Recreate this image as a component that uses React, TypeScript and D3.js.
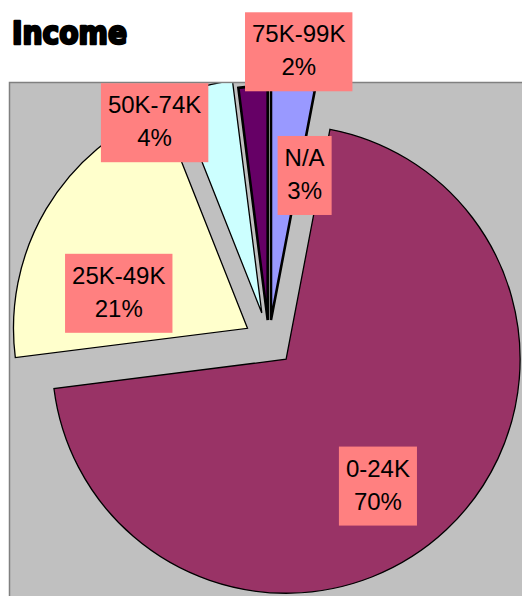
import React, { useEffect, useRef } from "react";
import * as d3 from "d3";

const categories = ["N/A", "0-24K", "25K-49K", "50K-74K", "75K-99K"];
const percents = [3, 70, 21, 4, 2];
const percentLabels = ["3%", "70%", "21%", "4%", "2%"];
const colors = ["#9999FF", "#993366", "#FFFFCC", "#CCFFFF", "#660066"];
// layout (styling) arrays
const explode = [21, 25, 25, 29, 21];
const strokeWidths = [2.6, 1.3, 1.3, 1.3, 2.6];
const labelAngleDeg = [13.1, 144.1, 285.2, 330.6, 6.6];
const labelDistFrac = [0.64, 0.675, 0.575, 0.941, 1.164];

const W = 522;
const H = 596;

export default function App() {
  const ref = useRef<SVGSVGElement>(null);
  useEffect(() => {
    const svg = d3.select(ref.current);
    svg.selectAll("*").remove();

    const plot = { x: 9.5, y: 82.5, w: 530, h: 530 };
    const cx = 269;
    const cy = 341;
    const r = 234;

    svg
      .append("rect")
      .attr("width", W)
      .attr("height", H)
      .attr("fill", "#ffffff");

    // Title
    svg
      .append("text")
      .attr("x", 12)
      .attr("y", 44)
      .attr("font-family", "'DejaVu Sans', sans-serif")
      .attr("font-weight", 900)
      .attr("font-size", 32)
      .attr("textLength", 115)
      .attr("lengthAdjust", "spacingAndGlyphs")
      .attr("fill", "#000")
      .attr("stroke", "#000")
      .attr("stroke-width", 2.6)
      .attr("stroke-linejoin", "round")
      .text("Income");

    // Plot area
    svg
      .append("rect")
      .attr("x", plot.x)
      .attr("y", plot.y)
      .attr("width", plot.w)
      .attr("height", plot.h)
      .attr("fill", "#C0C0C0")
      .attr("stroke", "#808080")
      .attr("stroke-width", 1.5);

    const defs = svg.append("defs");
    defs
      .append("clipPath")
      .attr("id", "plotclip")
      .append("rect")
      .attr("x", plot.x + 0.75)
      .attr("y", plot.y + 0.75)
      .attr("width", plot.w)
      .attr("height", plot.h);

    const pie = d3
      .pie<number>()
      .sort(null)
      .value((d) => d)
      .startAngle(0)
      .endAngle(2 * Math.PI);
    const arcs = pie(percents);
    const arc = d3.arc<d3.PieArcDatum<number>>().innerRadius(0).outerRadius(r);

    const g = svg.append("g").attr("clip-path", "url(#plotclip)");
    arcs.forEach((a, i) => {
      const mid = (a.startAngle + a.endAngle) / 2;
      const ox = cx + explode[i] * Math.sin(mid);
      const oy = cy - explode[i] * Math.cos(mid);
      g.append("path")
        .attr("d", arc(a) as string)
        .attr("transform", `translate(${ox},${oy})`)
        .attr("fill", colors[i])
        .attr("stroke", "#000")
        .attr("stroke-width", strokeWidths[i])
        .attr("stroke-linejoin", "miter");
    });

    // Labels
    const lg = svg.append("g");
    arcs.forEach((a, i) => {
      const mid = (a.startAngle + a.endAngle) / 2;
      const ox = cx + explode[i] * Math.sin(mid);
      const oy = cy - explode[i] * Math.cos(mid);
      const ang = (labelAngleDeg[i] * Math.PI) / 180;
      const d = labelDistFrac[i] * 232;
      const lx = ox + d * Math.sin(ang);
      const ly = oy - d * Math.cos(ang);
      const grp = lg.append("g");
      const rect = grp.append("rect").attr("fill", "#FF8080");
      const t1 = grp
        .append("text")
        .attr("x", lx)
        .attr("y", ly - 9.5)
        .attr("text-anchor", "middle")
        .attr("font-family", "'Liberation Sans', Arial, sans-serif")
        .attr("font-size", 24)
        .attr("fill", "#000")
        .text(categories[i]);
      const t2 = grp
        .append("text")
        .attr("x", lx)
        .attr("y", ly + 23.5)
        .attr("text-anchor", "middle")
        .attr("font-family", "'Liberation Sans', Arial, sans-serif")
        .attr("font-size", 24)
        .attr("fill", "#000")
        .text(percentLabels[i]);
      const w1 = (t1.node() as SVGTextElement).getComputedTextLength();
      const w2 = (t2.node() as SVGTextElement).getComputedTextLength();
      const bw = Math.max(w1, w2) + 14;
      const bh = 79;
      rect
        .attr("x", lx - bw / 2)
        .attr("y", ly - bh / 2)
        .attr("width", bw)
        .attr("height", bh);
    });
  }, []);

  return (
    <svg
      ref={ref}
      width={W}
      height={H}
      style={{ position: "absolute", left: 0, top: 0, display: "block" }}
    />
  );
}
